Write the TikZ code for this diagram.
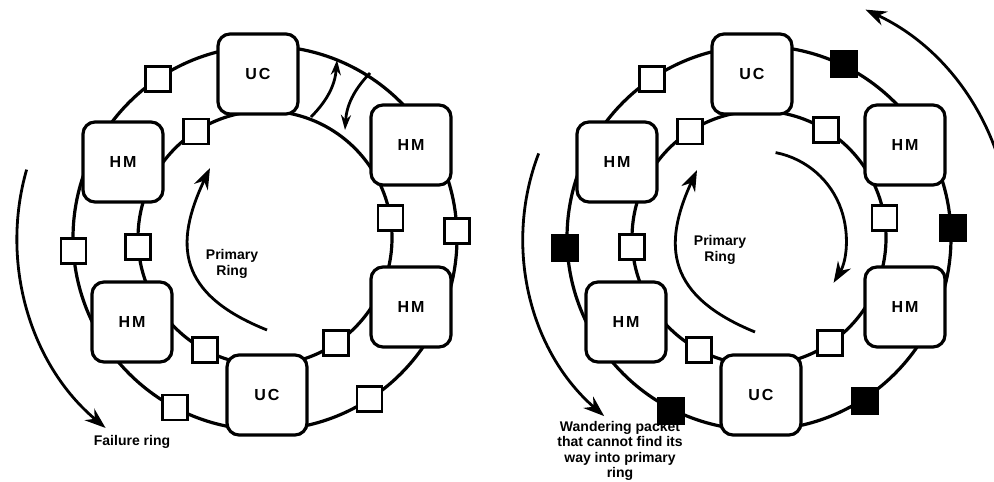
\documentclass[tikz,border=0pt]{standalone}
\usepackage{fontspec}
\setmainfont{Liberation Sans}
\newfontfamily\boxfont[LetterSpace=12]{Liberation Sans}
\usetikzlibrary{arrows.meta}

\begin{document}
\begin{tikzpicture}[
  x=1pt,y=1pt,
  >=Stealth,
  ring/.style={line width=3.2pt},
  unit/.style={draw,line width=3.2pt,fill=white,rounded corners=12pt,minimum width=80pt,minimum height=80pt,font=\boxfont\bfseries\fontsize{16}{19}\selectfont},
  pkt/.style={draw,line width=2.8pt,fill=white,minimum size=25pt,inner sep=0pt},
  lost/.style={pkt,fill=black},
  flow/.style={line width=2.8pt,-{Stealth[length=21pt,width=15pt]}},
  hop/.style={line width=2.8pt,-{Stealth[length=15pt,width=10pt]}},
  note/.style={font=\fontsize{14}{15.5}\selectfont\bfseries,align=center}
]
  \useasboundingbox (0,0) rectangle (994,482);

  % both rings: the same frame
  \foreach \s/\cx in {l/265,r/759}{
    \coordinate (\s-ctr) at (\cx,244);
    \draw[ring] (\s-ctr) circle[radius=192] (\s-ctr) circle[radius=127];
    \node[unit] (\s-uc1) at ([shift={(-7,164)}]\s-ctr) {UC};
    \node[unit] (\s-uc2) at ([shift={(2,-157)}]\s-ctr) {UC};
    \node[unit] (\s-hm1) at ([shift={(-142,76)}]\s-ctr) {HM};
    \node[unit] (\s-hm2) at ([shift={(-133,-84)}]\s-ctr) {HM};
    \node[unit] (\s-hm3) at ([shift={(146,93)}]\s-ctr) {HM};
    \node[unit] (\s-hm4) at ([shift={(146,-69)}]\s-ctr) {HM};
    \foreach \a [count=\i] in {123,184,9,242,304}
      \node[pkt] (\s-in\i) at ([shift={(\a:127)}]\s-ctr) {};
  }

  % left: failure ring
  \foreach \a [count=\i] in {124,184,2,242,303}
    \node[pkt] (l-out\i) at ([shift={(\a:192)}]l-ctr) {};
  \coordinate (l-fail) at ([shift={(164:248)}]l-ctr);
  \coordinate (l-prim) at ([shift={(2,-92)}]l-ctr);
  \coordinate (l-up) at ([shift={(46,121)}]l-ctr);
  \coordinate (l-upend) at ([shift={(72,178)}]l-ctr);
  \coordinate (l-dn) at ([shift={(105,165)}]l-ctr);
  \coordinate (l-dnend) at ([shift={(80,108)}]l-ctr);
  \draw[flow] (l-fail) arc[start angle=164,end angle=230,radius=248];
  \draw[flow] (l-prim) .. controls ([shift={(-88,-56)}]l-ctr) and ([shift={(-91,-6)}]l-ctr) .. ([shift={(-55,70)}]l-ctr);
  \draw[hop] (l-up) to[bend right=20] (l-upend);
  \draw[hop] (l-dn) to[bend right=20] (l-dnend);
  \node[note] (l-primlbl) at (232,218) {Primary\\Ring};
  \node[note] (l-faillbl) at (132,40) {Failure ring};

  % right: wandering packets
  \node[pkt] (r-in6) at ([shift={(58:127)}]r-ctr) {};
  \node[pkt] (r-out1) at ([shift={(124:192)}]r-ctr) {};
  \foreach \a [count=\i from 2] in {64,3,303,243,183}
    \node[lost] (r-out\i) at ([shift={(\a:194)}]r-ctr) {};
  \coordinate (r-wand) at ([shift={(159:236)}]r-ctr);
  \coordinate (r-back) at ([shift={(-6:252)}]r-ctr);
  \coordinate (r-prim) at ([shift={(-4,-94)}]r-ctr);
  \coordinate (r-cw) at ([shift={(79:87)}]r-ctr);
  \draw[flow] (r-wand) arc[start angle=159,end angle=229,radius=236];
  \draw[flow] (r-back) arc[start angle=-6,end angle=65,radius=252];
  \draw[flow] (r-prim) .. controls ([shift={(-92,-58)}]r-ctr) and ([shift={(-97,-8)}]r-ctr) .. ([shift={(-62,68)}]r-ctr);
  \draw[flow] (r-cw) arc[start angle=79,end angle=-31,radius=87];
  \node[note] (r-primlbl) at (720,232) {Primary\\Ring};
  \node[note] (r-wandlbl) at (620,31) {Wandering packet\\that cannot find its\\way into primary\\ring};
\end{tikzpicture}
\end{document}
